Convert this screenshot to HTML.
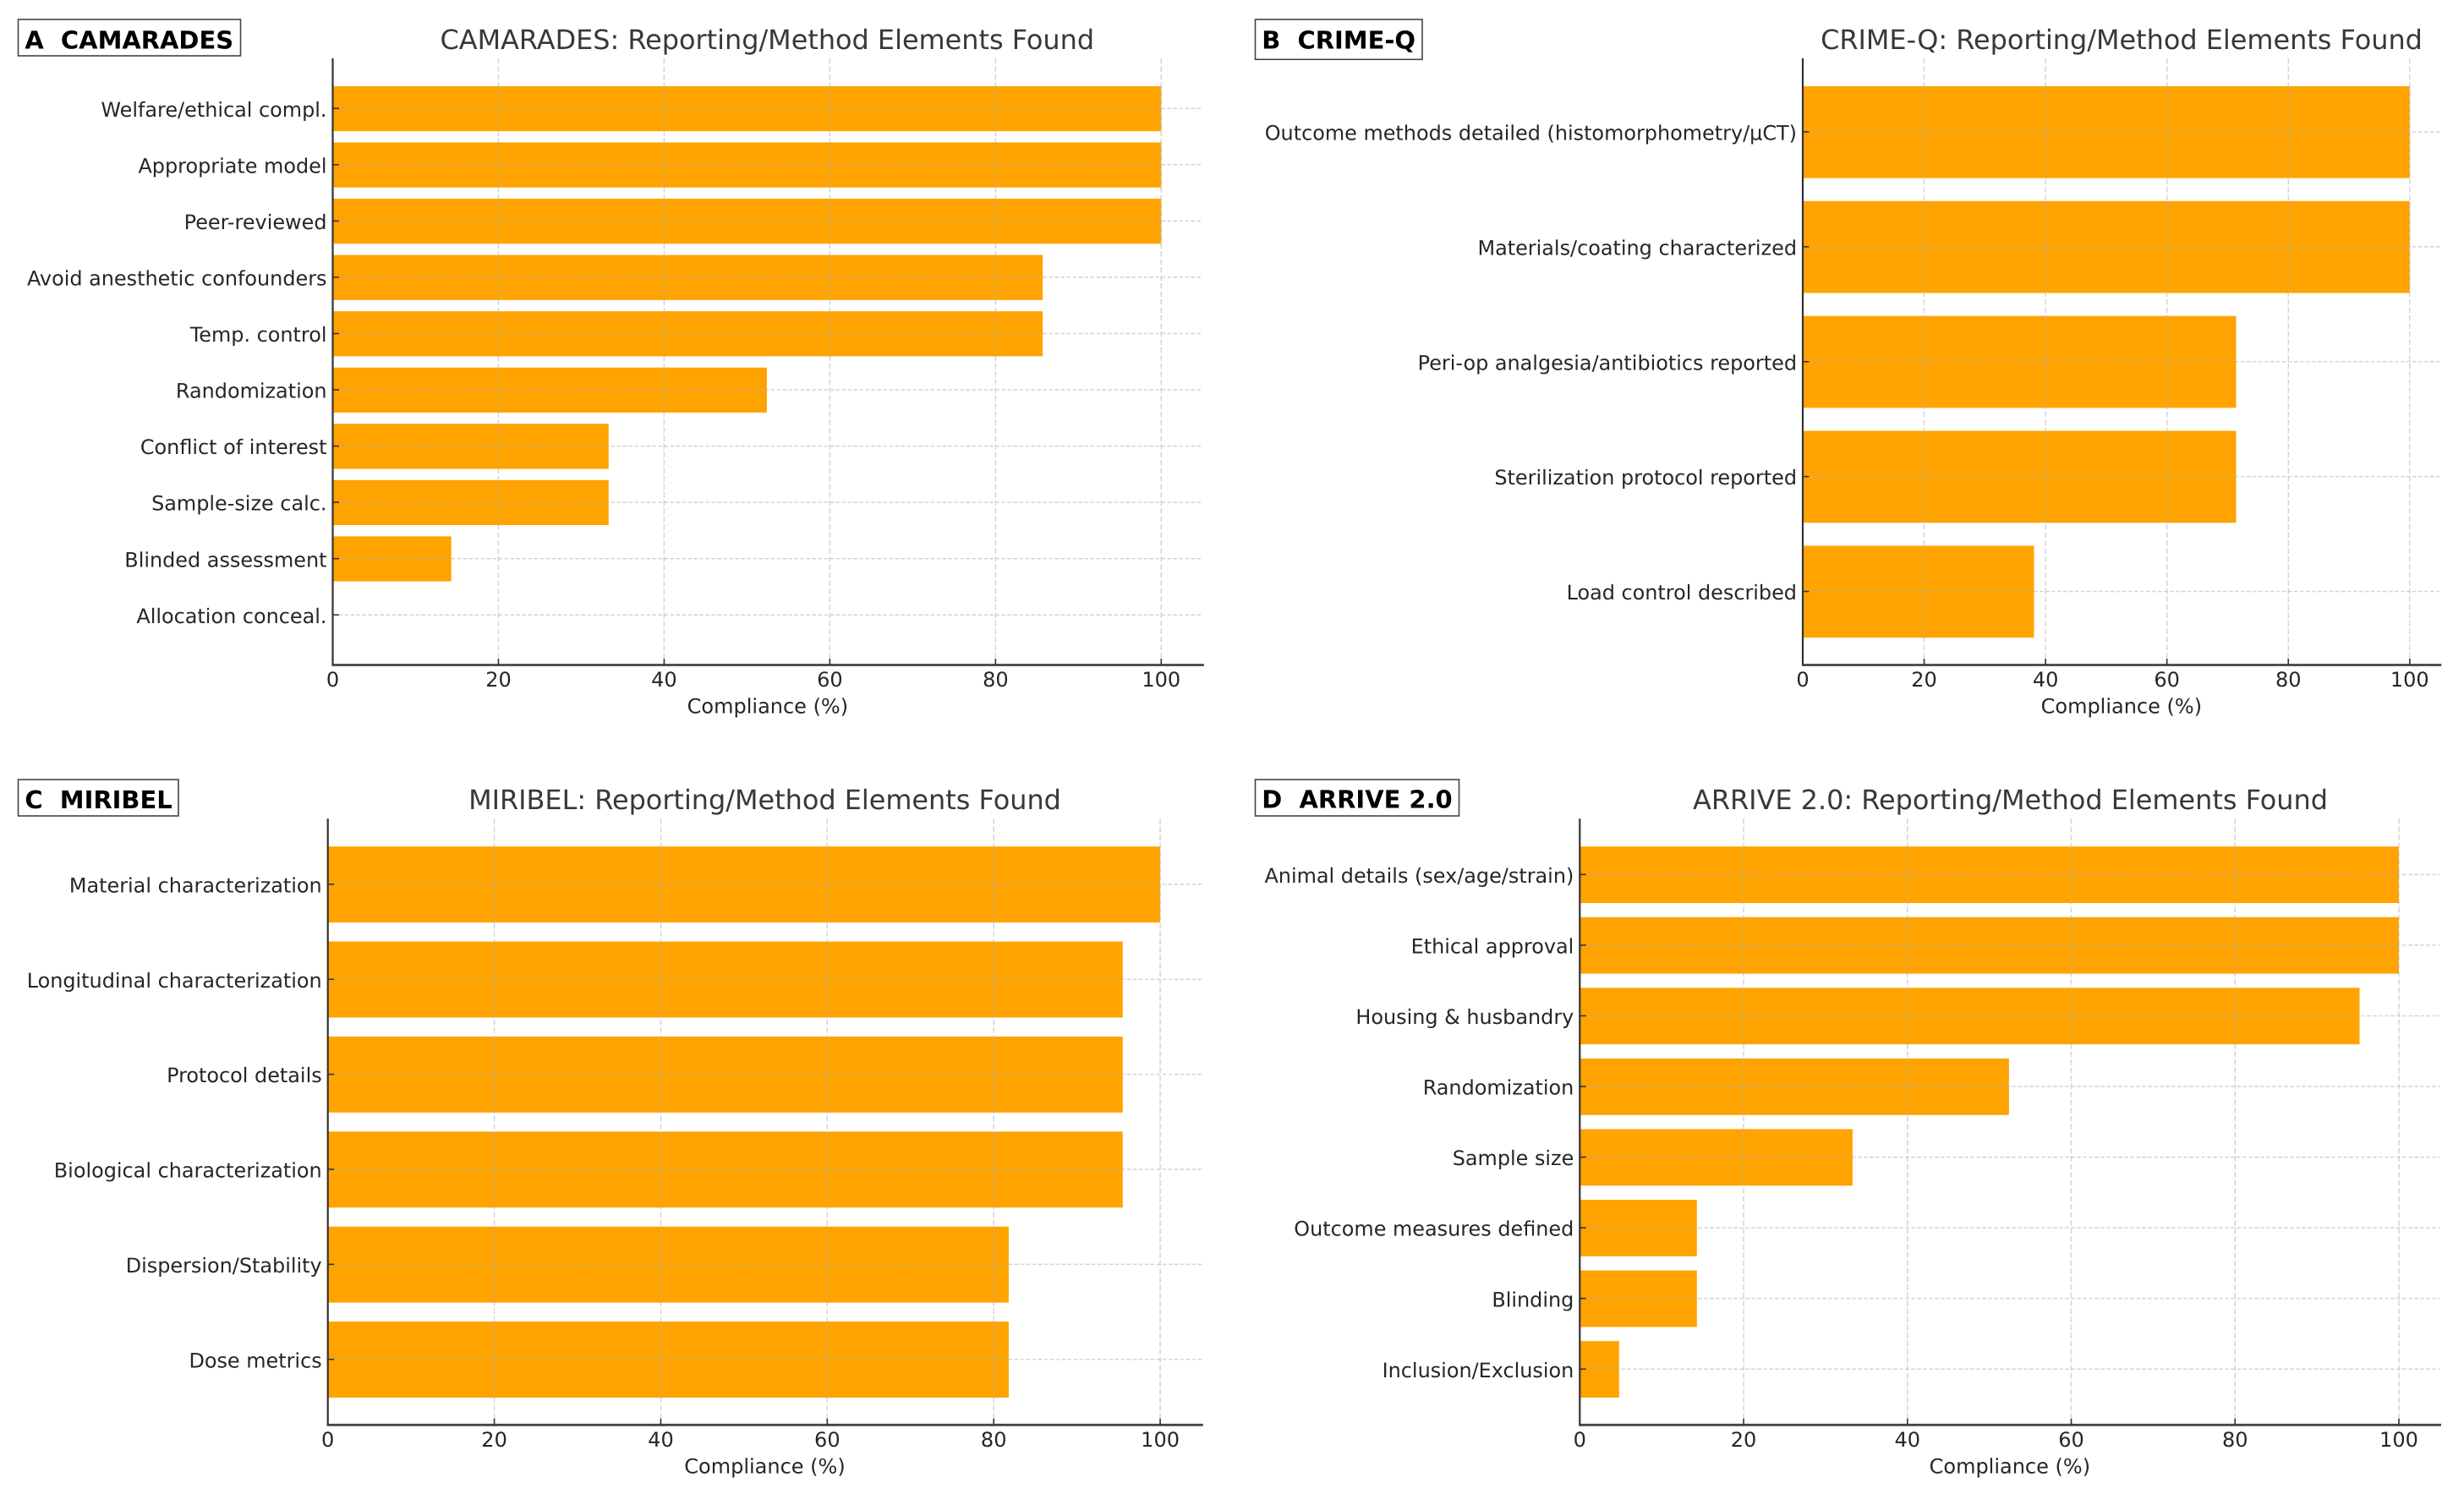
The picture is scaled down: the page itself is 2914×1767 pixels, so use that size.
<!DOCTYPE html>
<html lang="en">
<head>
<meta charset="utf-8">
<title>Reporting/Method Elements Found</title>
<style>
html,body{margin:0;padding:0;background:#fff;}
svg{display:block;font-family:"DejaVu Sans","Liberation Sans",sans-serif;text-rendering:geometricPrecision;}
.title{font-size:31.9px;fill:#383838;text-anchor:middle;}
.badge-text{font-size:28.95px;font-weight:bold;fill:#000;white-space:pre;}
.badge-box{fill:#fff;stroke:#444;stroke-width:1.6;}
.tick-text{font-size:24px;fill:#262626;}
.y-text{font-size:23.92px;fill:#262626;}
</style>
</head>
<body>
<svg id="chart" xmlns="http://www.w3.org/2000/svg" width="2914" height="1767" viewBox="0 0 2914 1767">
  <rect x="0" y="0" width="2914" height="1767" fill="#fff"/>

  <g>
    <rect class="badge-box" x="21.5" y="23" width="263" height="43"/>
    <text class="badge-text" x="29.4" y="57.3">A  CAMARADES</text>
  </g>
  <text class="title" x="907.3" y="58">CAMARADES: Reporting/Method Elements Found</text>

  <g>
    <rect class="badge-box" x="1484.5" y="23" width="197.5" height="47.3"/>
    <text class="badge-text" x="1492.3" y="57.3">B  CRIME-Q</text>
  </g>
  <text class="title" x="2509" y="58">CRIME-Q: Reporting/Method Elements Found</text>

  <g>
    <rect class="badge-box" x="21.5" y="922" width="189.5" height="43"/>
    <text class="badge-text" x="29.4" y="956">C  MIRIBEL</text>
  </g>
  <text class="title" x="904.5" y="957">MIRIBEL: Reporting/Method Elements Found</text>

  <g>
    <rect class="badge-box" x="1484.5" y="922" width="241" height="43"/>
    <text class="badge-text" x="1492.3" y="955.5">D  ARRIVE 2.0</text>
  </g>
  <text class="title" x="2377.5" y="957">ARRIVE 2.0: Reporting/Method Elements Found</text>
</svg>

<script>
// ---- chart data ----
const xTickValues = [0, 20, 40, 60, 80, 100];
const xLimitMax = 105;
const xAxisTitle = 'Compliance (%)';

const camaradesCategories = ['Welfare/ethical compl.', 'Appropriate model', 'Peer-reviewed', 'Avoid anesthetic confounders', 'Temp. control', 'Randomization', 'Conflict of interest', 'Sample-size calc.', 'Blinded assessment', 'Allocation conceal.'];
const camaradesValues = [100, 100, 100, 85.7, 85.7, 52.4, 33.3, 33.3, 14.3, 0];

const crimeQCategories = ['Outcome methods detailed (histomorphometry/µCT)', 'Materials/coating characterized', 'Peri-op analgesia/antibiotics reported', 'Sterilization protocol reported', 'Load control described'];
const crimeQValues = [100, 100, 71.4, 71.4, 38.1];

const miribelCategories = ['Material characterization', 'Longitudinal characterization', 'Protocol details', 'Biological characterization', 'Dispersion/Stability', 'Dose metrics'];
const miribelValues = [100, 95.5, 95.5, 95.5, 81.8, 81.8];

const arriveCategories = ['Animal details (sex/age/strain)', 'Ethical approval', 'Housing & husbandry', 'Randomization', 'Sample size', 'Outcome measures defined', 'Blinding', 'Inclusion/Exclusion'];
const arriveValues = [100, 100, 95.2, 52.4, 33.3, 14.3, 14.3, 4.8];

// ---- drawing ----
const svgNS = 'http://www.w3.org/2000/svg';
const root = document.getElementById('chart');

function make(tag, attrs, parent) {
  const el = document.createElementNS(svgNS, tag);
  for (const k in attrs) el.setAttribute(k, attrs[k]);
  parent.appendChild(el);
  return el;
}

function drawPanel(key, categories, values, left, right, top, bottom) {
  const g = make('g', {}, root);
  
  

  const xScale = v => left + (v / xLimitMax) * (right - left);
  const n = categories.length;
  const step = (bottom - top) / ((n - 0.2) * 1.1);
  const yScale = i => top + (0.4 + (n - 0.2) * 0.05 + i) * step;
  const barHeight = 0.8 * step;

  values.forEach((v, i) => {
    const bar = make('rect', { x: left, y: yScale(i) - barHeight / 2 + 0.3, width: xScale(v) - left, height: barHeight, fill: '#ffa300' }, g);
    
    
  });

  xTickValues.forEach(t => {
    const gridLine = make('line', { x1: xScale(t), x2: xScale(t), y1: top, y2: bottom, stroke: '#b4b4b4', 'stroke-width': 1.5, 'stroke-dasharray': '6.5 3', 'stroke-opacity': 0.57 }, g);
    
    
  });
  categories.forEach((c, i) => {
    const gridLine = make('line', { x1: left, x2: right, y1: yScale(i), y2: yScale(i), stroke: '#b4b4b4', 'stroke-width': 1.5, 'stroke-dasharray': '4.5 2.5', 'stroke-opacity': 0.57 }, g);
    
    
  });

  const leftSpine = make('line', { x1: left, x2: left, y1: top, y2: bottom + 1, stroke: '#333', 'stroke-width': 2.2 }, g);
  
  
  const bottomSpine = make('line', { x1: left - 1, x2: right + 1.5, y1: bottom, y2: bottom, stroke: '#444', 'stroke-width': 2.8 }, g);
  
  

  xTickValues.forEach(t => {
    const tick = make('line', { x1: xScale(t), x2: xScale(t), y1: bottom - 7.5, y2: bottom, stroke: '#333', 'stroke-width': 1.6 }, g);
    
    
    const label = make('text', { x: xScale(t), y: bottom + 25.6, 'text-anchor': 'middle', class: 'tick-text' }, g);
    
    
    label.textContent = t;
  });

  categories.forEach((c, i) => {
    const tick = make('line', { x1: left, x2: left + 7.5, y1: yScale(i), y2: yScale(i), stroke: '#333', 'stroke-width': 1.6 }, g);
    
    
    const label = make('text', { x: left - 7, y: yScale(i) + 9.6, 'text-anchor': 'end', class: 'y-text' }, g);
    
    
    label.textContent = c;
  });

  const axisTitle = make('text', { x: (left + right) / 2, y: bottom + 57, 'text-anchor': 'middle', class: 'tick-text' }, g);
  
  
  axisTitle.textContent = xAxisTitle;
}

drawPanel('a', camaradesCategories, camaradesValues, 393.5, 1422.3, 69, 786.5);
drawPanel('b', crimeQCategories, crimeQValues, 2132, 2885.7, 69, 786.5);
drawPanel('c', miribelCategories, miribelValues, 387.7, 1421.3, 968.3, 1685.3);
drawPanel('d', arriveCategories, arriveValues, 1868.3, 2885.4, 968.3, 1685.3);
</script>
</body>
</html>
